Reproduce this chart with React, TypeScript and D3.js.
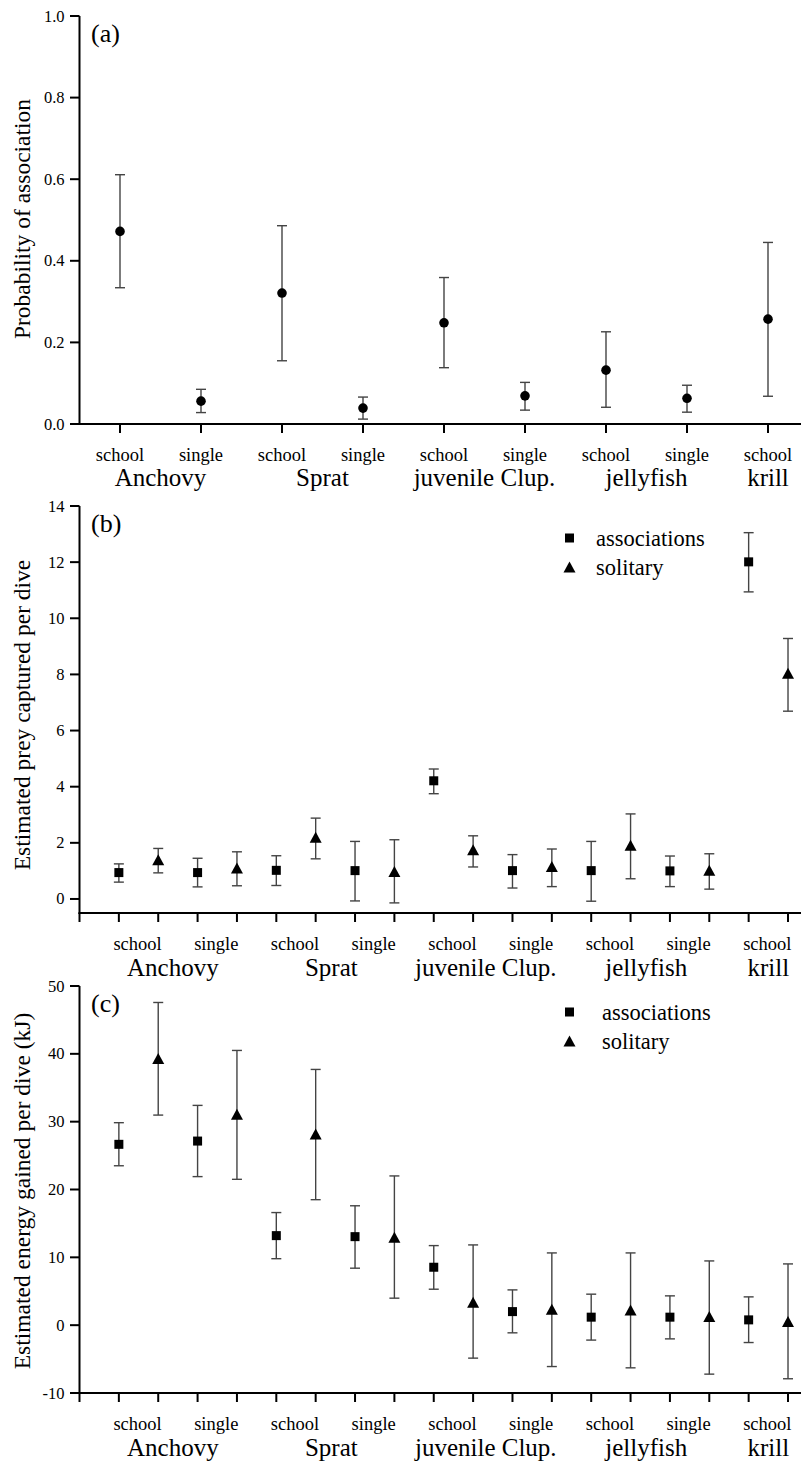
import React from "react";
import * as d3 from "d3";

// ---------- Data ----------
const groupsA = ["Anchovy", "Sprat", "juvenile Clup.", "jellyfish", "krill"];
const preyTypesA = ["school", "single", "school", "single", "school", "single", "school", "single", "school"];
const probMean = [0.472, 0.056, 0.321, 0.039, 0.248, 0.069, 0.132, 0.063, 0.257];
const probLow = [0.334, 0.028, 0.155, 0.012, 0.138, 0.034, 0.041, 0.029, 0.068];
const probHigh = [0.611, 0.085, 0.486, 0.066, 0.359, 0.102, 0.226, 0.095, 0.445];

// panels b & c: 18 positions alternate associations (square) / solitary (triangle)
const seriesBC = ["associations", "solitary"];
const preyMean = [0.94, 1.4, 0.94, 1.1, 1.02, 2.2, 1.01, 0.98, 4.21, 1.75, 1.01, 1.16, 1.01, 1.91, 1.0, 1.02, 12.01, 8.04];
const preyLow = [0.6, 0.93, 0.43, 0.47, 0.48, 1.43, -0.07, -0.14, 3.75, 1.14, 0.39, 0.44, -0.08, 0.72, 0.44, 0.35, 10.94, 6.69];
const preyHigh = [1.25, 1.8, 1.45, 1.68, 1.54, 2.88, 2.05, 2.11, 4.63, 2.25, 1.58, 1.78, 2.05, 3.03, 1.53, 1.61, 13.05, 9.28];

const energyMean = [26.66, 39.3, 27.14, 31.1, 13.2, 28.2, 13.05, 12.96, 8.54, 3.39, 2.0, 2.36, 1.18, 2.25, 1.18, 1.27, 0.78, 0.54];
const energyLow = [23.5, 30.97, 21.9, 21.5, 9.8, 18.5, 8.4, 3.98, 5.3, -4.86, -1.13, -6.1, -2.2, -6.29, -2.02, -7.22, -2.56, -7.9];
const energyHigh = [29.85, 47.57, 32.4, 40.5, 16.6, 37.7, 17.6, 22.0, 11.73, 11.83, 5.2, 10.65, 4.57, 10.65, 4.32, 9.47, 4.17, 9.03];

const ticksA = [0, 0.2, 0.4, 0.6, 0.8, 1.0];
const ticksB = [0, 2, 4, 6, 8, 10, 12, 14];
const ticksC = [-10, 0, 10, 20, 30, 40, 50];

const FONT = "'Liberation Serif', 'Times New Roman', serif";
const AXIS_X = 79.5;
const RIGHT = 801;
const EB = "#444";

function triPath(cx: number, cy: number) {
  const w = 12, h = 11;
  return `M${cx},${cy - h / 2}L${cx + w / 2},${cy + h / 2}L${cx - w / 2},${cy + h / 2}Z`;
}

function YAxis({ y, ticks, fmt }: { y: d3.ScaleLinear<number, number>; ticks: number[]; fmt: (v: number) => string }) {
  return (
    <g>
      {ticks.map((t) => (
        <g key={t}>
          <line x1={AXIS_X - 9.5} x2={AXIS_X} y1={y(t)} y2={y(t)} stroke="#000" strokeWidth={2} />
          <text x={AXIS_X - 15} y={y(t) + 5.5} textAnchor="end" fontSize={16.5} fontFamily={FONT}>
            {fmt(t)}
          </text>
        </g>
      ))}
    </g>
  );
}

function ErrorBar({ x, lo, hi }: { x: number; lo: number; hi: number }) {
  return (
    <g stroke={EB} strokeWidth={1.4}>
      <line x1={x} x2={x} y1={lo} y2={hi} />
      <line x1={x - 5} x2={x + 5} y1={lo} y2={lo} />
      <line x1={x - 5} x2={x + 5} y1={hi} y2={hi} />
    </g>
  );
}

function PanelBC({
  top, bottom, domain, ticks, mean, low, high, label, title, legendY, legendTextX, titleCenter,
}: {
  top: number; bottom: number; domain: [number, number]; ticks: number[]; mean: number[]; low: number[]; high: number[];
  label: string; title: string; legendY: number; legendTextX: number; titleCenter: number;
}) {
  const y = d3.scaleLinear().domain(domain).range([bottom, top]);
  const x = d3.scaleLinear().domain([0, 18.33]).range([AXIS_X, RIGHT]);
  const idx = d3.range(1, 19);
  const pairMid = (i: number) => (x(i) + x(i + 1)) / 2;
  const groupsBC = [
    { name: groupsA[0], c: (x(1) + x(4)) / 2 - 5 },
    { name: groupsA[1], c: (x(5) + x(8)) / 2 - 4 },
    { name: groupsA[2], c: (x(9) + x(12)) / 2 - 7 },
    { name: groupsA[3], c: (x(13) + x(16)) / 2 - 4 },
    { name: groupsA[4], c: (x(17) + x(18)) / 2 },
  ];
  const yMax = y(domain[1]);
  const yMin = y(domain[0]);
  return (
    <g>
      {/* axes */}
      <line x1={AXIS_X} x2={AXIS_X} y1={yMax} y2={yMin + 1} stroke="#000" strokeWidth={2} />
      <line x1={AXIS_X - 1} x2={RIGHT} y1={yMin} y2={yMin} stroke="#000" strokeWidth={2} />
      <YAxis y={y} ticks={ticks} fmt={(v) => String(v)} />
      {[0, ...idx].map((i) => (
        <line key={i} x1={x(i)} x2={x(i)} y1={yMin} y2={yMin + 9} stroke="#000" strokeWidth={2} />
      ))}
      {preyTypesA.map((p, k) => (
        <text key={k} x={pairMid(2 * k + 1) - 1} y={yMin + 37} textAnchor="middle" fontSize={18.5} fontFamily={FONT}>
          {p}
        </text>
      ))}
      {groupsBC.map((g) => (
        <text key={g.name} x={g.c} y={yMin + 63} textAnchor="middle" fontSize={25} fontFamily={FONT}>
          {g.name}
        </text>
      ))}
      {/* error bars */}
      {idx.map((i) => (
        <ErrorBar key={i} x={x(i)} lo={y(low[i - 1])} hi={y(high[i - 1])} />
      ))}
      {/* markers */}
      {idx.map((i) =>
        i % 2 === 1 ? (
          <rect key={i} x={x(i) - 4.5} y={y(mean[i - 1]) - 4.5} width={9} height={9} fill="#000" />
        ) : (
          <path key={i} d={triPath(x(i), y(mean[i - 1]))} fill="#000" />
        )
      )}
      {/* panel label */}
      <text x={91} y={top + 26} fontSize={26} fontFamily={FONT}>{label}</text>
      {/* legend */}
      <rect x={569.5 - 4.5} y={legendY - 4.5} width={9} height={9} fill="#000" />
      <path d={triPath(569.5, legendY + 29)} fill="#000" />
      <text x={legendTextX} y={legendY + 8} fontSize={22.5} fontFamily={FONT}>{seriesBC[0]}</text>
      <text x={legendTextX} y={legendY + 37} fontSize={22.5} fontFamily={FONT}>{seriesBC[1]}</text>
      {/* y title */}
      <text transform={`translate(30,${titleCenter}) rotate(-90)`} textAnchor="middle" fontSize={23.5} fontFamily={FONT}>
        {title}
      </text>
    </g>
  );
}

export default function App() {
  // Panel a
  const yA = d3.scaleLinear().domain([0, 1]).range([424, 16]);
  const xA = d3.scaleLinear().domain([0, 9]).range([AXIS_X, AXIS_X + 9 * 81]);
  const posA = d3.range(9).map((i) => xA(i + 0.5));
  const groupCentersA = [
    (posA[0] + posA[1]) / 2,
    (posA[2] + posA[3]) / 2,
    (posA[4] + posA[5]) / 2,
    (posA[6] + posA[7]) / 2,
    posA[8],
  ];
  return (
    <svg
      width={801}
      height={1462}
      style={{ position: "absolute", left: 0, top: 0, background: "#fff" }}
    >
      <rect width={801} height={1462} fill="#fff" />
      {/* Panel a */}
      <g>
        <line x1={AXIS_X} x2={AXIS_X} y1={yA(1)} y2={yA(0)} stroke="#000" strokeWidth={2} />
        <line x1={AXIS_X - 9.5} x2={RIGHT} y1={yA(0)} y2={yA(0)} stroke="#000" strokeWidth={2} />
        <YAxis y={yA} ticks={ticksA} fmt={d3.format(".1f")} />
        {posA.map((p, i) => (
          <line key={i} x1={p} x2={p} y1={yA(0)} y2={yA(0) + 9} stroke="#000" strokeWidth={2} />
        ))}
        {preyTypesA.map((t, i) => (
          <text key={i} x={posA[i]} y={yA(0) + 37} textAnchor="middle" fontSize={18.5} fontFamily={FONT}>
            {t}
          </text>
        ))}
        {groupsA.map((g, i) => (
          <text key={g} x={groupCentersA[i]} y={yA(0) + 62} textAnchor="middle" fontSize={25} fontFamily={FONT}>
            {g}
          </text>
        ))}
        {posA.map((p, i) => (
          <ErrorBar key={i} x={p} lo={yA(probLow[i])} hi={yA(probHigh[i])} />
        ))}
        {posA.map((p, i) => (
          <circle key={i} cx={p} cy={yA(probMean[i])} r={4.8} fill="#000" />
        ))}
        <text x={91} y={42} fontSize={26} fontFamily={FONT}>(a)</text>
        <text transform={`translate(30,219) rotate(-90)`} textAnchor="middle" fontSize={23.5} fontFamily={FONT}>
          Probability of association
        </text>
      </g>
      <PanelBC
        top={506}
        bottom={913}
        domain={[-0.5, 14]}
        ticks={ticksB}
        mean={preyMean}
        low={preyLow}
        high={preyHigh}
        label="(b)"
        title="Estimated prey captured per dive"
        legendY={538}
        legendTextX={596}
        titleCenter={715}
      />
      <PanelBC
        top={986}
        bottom={1393}
        domain={[-10, 50]}
        ticks={ticksC}
        mean={energyMean}
        low={energyLow}
        high={energyHigh}
        label="(c)"
        title="Estimated energy gained per dive (kJ)"
        legendY={1012}
        legendTextX={602}
        titleCenter={1191}
      />
    </svg>
  );
}
